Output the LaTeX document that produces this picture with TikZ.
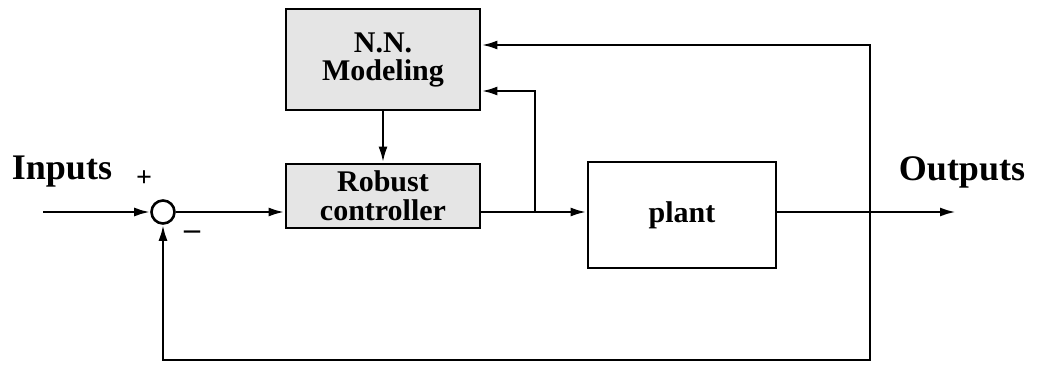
\documentclass[tikz,border=0pt]{standalone}
\usepackage{fontspec}
\setmainfont{Liberation Serif}
\usetikzlibrary{arrows.meta}
\begin{document}
\begin{tikzpicture}[x=1pt,y=-1pt,
  blk/.style={draw, line width=2.8pt, minimum width=194pt, inner sep=0pt, align=center, font=\bfseries\fontsize{30}{31}\selectfont},
  shaded/.style={blk, fill=gray!20},
  sig/.style={line width=2.6pt, -{Latex[length=16pt,width=9pt]}},
  lbl/.style={font=\bfseries\fontsize{36}{38}\selectfont, inner sep=0pt}]
\useasboundingbox (0,0) rectangle (1038,364);
\node[shaded, minimum height=101pt] (nn) at (383,59.5) {N.N.\\[-3pt]Modeling};
\node[shaded, minimum height=64pt] (rc) at (383,196) {Robust\\[-2pt]controller};
\node[blk, minimum width=188pt, minimum height=106pt] (pl) at (682,215) {plant};
\node[circle, draw, line width=2.6pt, minimum size=23pt, inner sep=0pt] (sum) at (163,212) {};
\coordinate (in) at (43,212);
\coordinate (out) at (956,212);
\coordinate (br) at (535,212);
\coordinate (brt) at (535,91);
\coordinate (fr) at (870,212);
\coordinate (frt) at (870,45);
\coordinate (frb) at (870,360);
\coordinate (sb) at (163,360);
\node[lbl] (tin) at (62,172) {Inputs};
\node[lbl] (tout) at (962,172) {Outputs};
\node[font=\bfseries\fontsize{28}{30}\selectfont, inner sep=0pt] (plus) at (144,179) {+};
\node[font=\bfseries\fontsize{32}{34}\selectfont, inner sep=0pt] (minus) at (192,235) {--};
\draw[sig] (in) -- (sum);
\draw[sig] (sum) -- (rc.west |- sum);
\draw[sig] (nn) -- (rc);
\draw[sig] (rc.east |- br) -- (pl.west |- br);
\draw[sig] (br) -- (brt) -- (nn.east |- brt);
\draw[sig] (pl.east |- out) -- (out);
\draw[sig] (fr) -- (frt) -- (nn.east |- frt);
\draw[sig] (fr) -- (frb) -- (sb) -- (sum);
\end{tikzpicture}
\end{document}
